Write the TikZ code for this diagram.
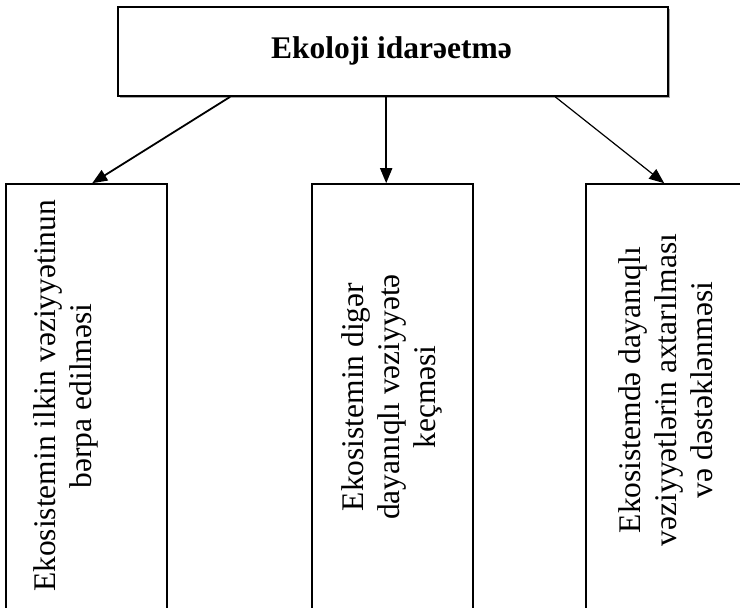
\documentclass[tikz,border=0pt]{standalone}
\usepackage{fontspec}
\setmainfont{Liberation Serif}
\usetikzlibrary{arrows.meta,calc}
\tikzset{
  boxnode/.style={draw=black, line width=1.6pt, fill=white, inner sep=0pt},
  arr/.style={-{Triangle[length=15pt,width=12pt]}, line width=1.8pt},
  arrthin/.style={-{Triangle[length=15pt,width=12pt]}, line width=1.2pt},
  vtext/.style={rotate=90, align=center, inner sep=0pt, font=\fontsize{31.5}{36}\selectfont},
  ttext/.style={font=\bfseries\fontsize{31.5}{36}\selectfont, inner sep=0pt}
}
\begin{document}
\begin{tikzpicture}[x=1pt,y=-1pt]
\useasboundingbox (0,0) rectangle (740,608);
\clip (0,0) rectangle (740,608);
\fill[white] (0,0) rectangle (740,608);
% shadow of top box
\draw[gray!70, line width=1.2pt] (669.5,9) -- (669.5,97.5) -- (120,97.5);
\node[boxnode, minimum width=550pt, minimum height=89pt] (top) at (393,51.5) {};
\node[ttext, anchor=base] (title) at (391.5,58) {Ekoloji idarəetmə};
\node[boxnode, minimum width=161pt, minimum height=466pt] (b1) at (86.5,417) {};
\node[boxnode, minimum width=161pt, minimum height=466pt] (b2) at (392.5,417) {};
\node[boxnode, minimum width=314pt, minimum height=466pt] (b3) at (743,417) {};
\node[vtext] (t1) at (66,396) {Ekosistemin ilkin vəziyyətinun\\bərpa edilməsi};
\node[vtext] (t2) at (392,397) {Ekosistemin digər\\dayanıqlı vəziyyətə\\keçməsi};
\node[vtext] (t3) at (666,390) {Ekosistemdə dayanıqlı\\vəziyyətlərin axtarılması\\və dəstəklənməsi};
\draw[arr] ($(top.south west)+(113,0)$) -- ($(b1.north west)+(87,0)$);
\draw[arr] ($(top.south west)+(269,0)$) -- ($(b2.north west)+(75,0)$);
\draw[arrthin] ($(top.south west)+(438,0)$) -- ($(b3.north west)+(79,0)$);
\end{tikzpicture}
\end{document}
